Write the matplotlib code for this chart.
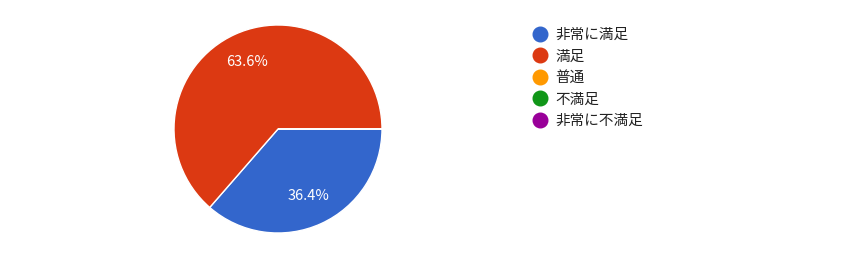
import matplotlib
matplotlib.use("Agg")
import matplotlib.pyplot as plt
from matplotlib.lines import Line2D

plt.rcParams['font.family'] = ['Noto Sans CJK JP', 'DejaVu Sans']

# survey answers and their share
labels = ['非常に満足', '満足', '普通', '不満足', '非常に不満足']
values = [36.4, 63.6, 0, 0, 0]
colors = ['#3366cc', '#dc3912', '#ff9900', '#109618', '#990099']

fig = plt.figure(figsize=(8.46, 2.72), dpi=100)

# pie centred at (278,129) px, radius 104 px
ax = fig.add_axes([174 / 846, (272 - 233) / 272, 208 / 846, 208 / 272])


def pct(p):
    return f'{p:.1f}%' if p > 0 else ''


wedges, texts, autotexts = ax.pie(
    values, colors=colors, startangle=0, counterclock=False,
    autopct=pct, pctdistance=0.71,
    wedgeprops=dict(edgecolor='white', linewidth=1),
    textprops=dict(color='white', fontsize=10.5))
ax.set_aspect('equal')
ax.set_xlim(-1, 1)
ax.set_ylim(-1, 1)

handles = [Line2D([], [], marker='o', linestyle='', markersize=10.5,
                  markerfacecolor=c, markeredgecolor=c) for c in colors]
leg = fig.legend(handles, labels, loc='upper left',
                 bbox_to_anchor=(527 / 846, 1 - 22 / 272),
                 frameon=False, fontsize=10.5, handlelength=1.0,
                 handletextpad=0.55, labelspacing=0.52, borderaxespad=0)
for t in leg.get_texts():
    t.set_color('#222222')

fig.savefig('out.png', dpi=100)
